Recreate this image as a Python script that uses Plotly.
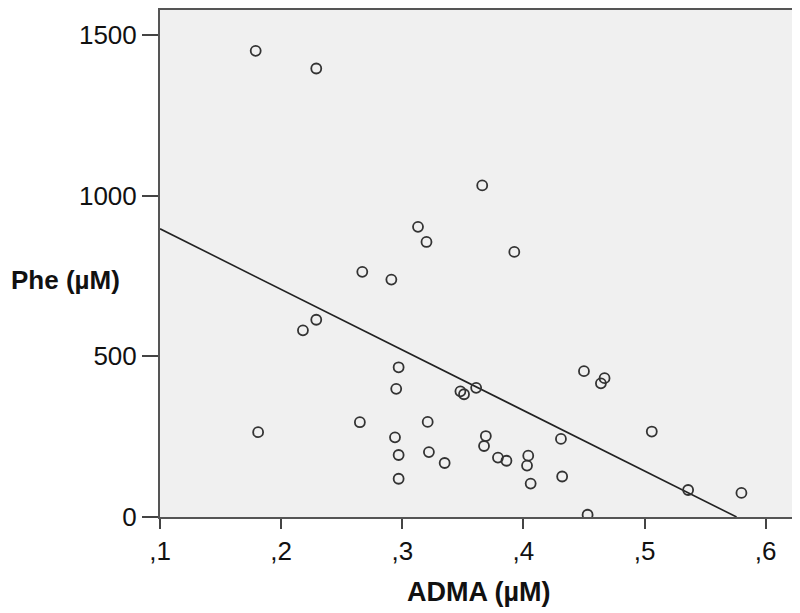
import plotly.graph_objects as go

# Scatter data: ADMA (µM) vs Phe (µM)
adma = [0.179, 0.229, 0.267, 0.291, 0.366, 0.313, 0.320, 0.3925,
        0.218, 0.229, 0.181, 0.265, 0.297, 0.295, 0.294, 0.297, 0.297,
        0.348, 0.351, 0.361, 0.321, 0.322, 0.335, 0.369, 0.3675, 0.379,
        0.386, 0.404, 0.403, 0.406, 0.431, 0.432, 0.450, 0.467, 0.464,
        0.453, 0.506, 0.536, 0.580]
phe = [1451, 1396, 763, 739, 1032, 903, 856, 825,
       581, 614, 264, 295, 466, 399, 248, 193, 119,
       391, 382, 402, 296, 202, 168, 252, 221, 185,
       175, 191, 160, 104, 243, 126, 454, 432, 416,
       7, 266, 84, 75]

# Fitted regression line
fit_x = [0.1, 0.576]
fit_y = [897, 0]

x_tickvals = [0.1, 0.2, 0.3, 0.4, 0.5, 0.6]
x_ticktext = [",1", ",2", ",3", ",4", ",5", ",6"]
y_tickvals = [0, 500, 1000, 1500]
y_ticktext = ["0", "500", "1000", "1500"]

FONT = "Liberation Sans, Arial, sans-serif"

fig = go.Figure()
fig.add_trace(go.Scatter(
    x=fit_x, y=fit_y, mode="lines",
    line=dict(color="#222222", width=1.6),
    hoverinfo="skip", showlegend=False))
fig.add_trace(go.Scatter(
    x=adma, y=phe, mode="markers",
    marker=dict(symbol="circle-open", size=10, color="#333333",
                line=dict(width=1.8, color="#333333")),
    showlegend=False))

fig.update_layout(
    width=792, height=605,
    margin=dict(l=152, r=0, t=0, b=96),
    paper_bgcolor="white",
    plot_bgcolor="#f0f0f0",
    font=dict(family=FONT, size=26, color="#111111"),
    xaxis=dict(range=[0.1, 0.6267], tickvals=x_tickvals, ticktext=x_ticktext,
               ticks="outside", ticklen=10, tickwidth=2, tickcolor="#444444",
               showline=True, linecolor="#555555", linewidth=2, mirror=True,
               showgrid=False, zeroline=False, ticklabelstandoff=0,
               tickfont=dict(family=FONT, size=26, color="#111111")),
    yaxis=dict(range=[0, 1578], tickvals=y_tickvals, ticktext=y_ticktext,
               ticks="outside", ticklen=16, tickwidth=2, tickcolor="#444444",
               showline=True, linecolor="#555555", linewidth=2, mirror=True,
               showgrid=False, zeroline=False, ticklabelstandoff=0,
               tickfont=dict(family=FONT, size=26, color="#111111")),
    annotations=[
        dict(text="<b>Phe (µM)</b>", xref="paper", yref="paper",
             x=-0.237, y=0.468, xanchor="left", yanchor="middle",
             showarrow=False, font=dict(family=FONT, size=26, color="#111111")),
        dict(text="<b>ADMA (µM)</b>", xref="paper", yref="paper",
             x=0.5, y=-0.147, xanchor="center", yanchor="middle",
             showarrow=False, font=dict(family=FONT, size=27, color="#111111")),
    ],
)

fig.write_html("out.html")
